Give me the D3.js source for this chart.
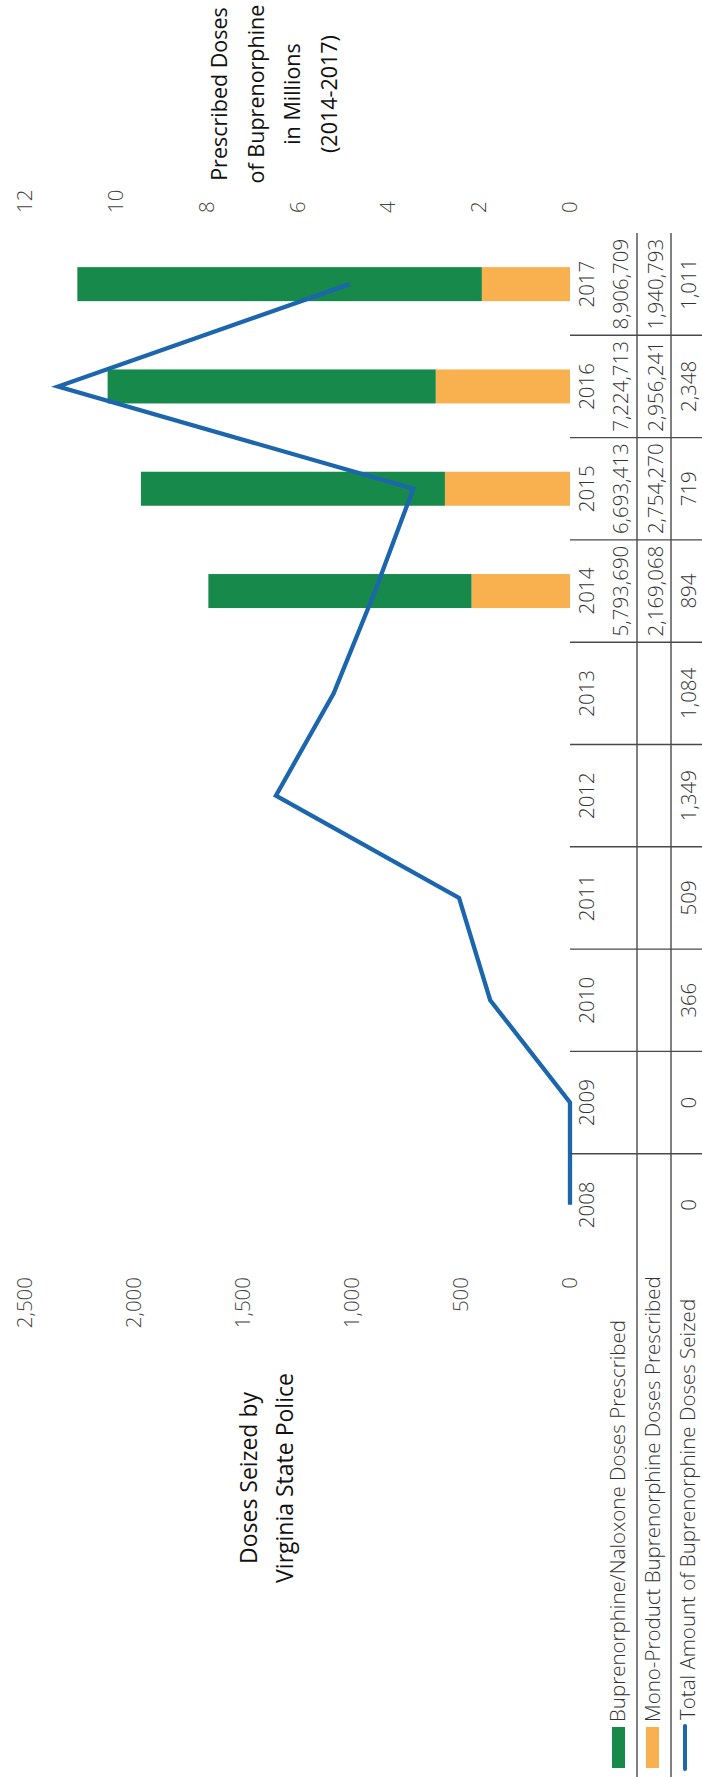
<!DOCTYPE html>
<html><head><meta charset="utf-8">
<script src="https://cdn.jsdelivr.net/npm/d3@7"></script>
<style>
html,body{margin:0;padding:0;background:#fff;}
text{font-family:"Open Sans","Noto Sans",sans-serif;}
</style></head>
<body>
<svg id="chart" width="702" height="1777"></svg>
<script>
const years = [2008,2009,2010,2011,2012,2013,2014,2015,2016,2017];
const comboDoses = [null,null,null,null,null,null,5793690,6693413,7224713,8906709];
const monoDoses  = [null,null,null,null,null,null,2169068,2754270,2956241,1940793];
const seized = [0,0,366,509,1349,1084,894,719,2348,1011];
const leftTicks = [0,500,1000,1500,2000,2500];
const rightTicks = [0,2,4,6,8,10,12];
const seriesNames = ["Buprenorphine/Naloxone Doses Prescribed","Mono-Product Buprenorphine Doses Prescribed","Total Amount of Buprenorphine Doses Seized"];
const colors = {combo:"#17894a", mono:"#f9b04e", line:"#1c66ad"};

const FS = 20.5;
const svg = d3.select("#chart");
// chart drawn in landscape and rotated (as in the reference scan)
const g = svg.append("g").attr("transform","translate(0,1777) rotate(-90)");

const x = d3.scaleBand().domain(years).range([521,1544]);
const bw = x.bandwidth();
const yL = d3.scaleLinear().domain([0,2500]).range([570,25]);
const yR = d3.scaleLinear().domain([0,12]).range([570,25]);

// stacked bars (mono at bottom, combo on top) in millions
const barData = years.map((y,i)=>({year:y, mono:monoDoses[i]==null?0:monoDoses[i]/1e6, combo:comboDoses[i]==null?0:comboDoses[i]/1e6}))
  .filter((d,i)=>comboDoses[i]!=null);
const stack = d3.stack().keys(["mono","combo"])(barData);
const barW = 34;
g.append("g").selectAll("g").data(stack).join("g")
  .attr("fill",d=>colors[d.key])
  .selectAll("rect").data(d=>d).join("rect")
  .attr("x",d=>x(d.data.year)+bw/2-barW/2)
  .attr("width",barW)
  .attr("y",d=>yR(d[1]))
  .attr("height",d=>yR(d[0])-yR(d[1]));

// seized line
const line = d3.line().x((d,i)=>x(years[i])+bw/2).y(d=>yL(d));
g.append("path").datum(seized)
  .attr("fill","none").attr("stroke",colors.line).attr("stroke-width",4.3)
  .attr("stroke-linejoin","miter").attr("d",line);

// left axis
const axL = g.append("g").attr("transform","translate(500,0)")
  .call(d3.axisLeft(yL).tickValues(leftTicks).tickSize(0).tickPadding(0).tickFormat(d3.format(",")));
axL.select(".domain").remove();
axL.selectAll("text").attr("font-size",FS).attr("font-weight",300).attr("fill","#444").attr("font-family","Open Sans, sans-serif");

// right axis
const axR = g.append("g").attr("transform","translate(1564,0)")
  .call(d3.axisRight(yR).tickValues(rightTicks).tickSize(0).tickPadding(0).tickFormat(d3.format("d")));
axR.select(".domain").remove();
axR.selectAll("text").attr("font-size",FS).attr("font-weight",300).attr("fill","#444").attr("font-family","Open Sans, sans-serif");

// year axis
const axX = g.append("g").attr("transform","translate(0,587)")
  .call(d3.axisBottom(x).tickSize(0).tickPadding(0));
axX.select(".domain").remove();
axX.selectAll("text").attr("dy","0.35em").attr("font-size",FS).attr("font-weight",300).attr("fill","#333").attr("font-family","Open Sans, sans-serif");

// table grid
const tbl = g.append("g").attr("stroke","#4a4a4a").attr("stroke-width",1.4);
[637,671].forEach(v=>tbl.append("line").attr("x1",0).attr("x2",x(2017)+bw).attr("y1",v).attr("y2",v));
years.slice(1).forEach(y=>tbl.append("line").attr("x1",x(y)).attr("x2",x(y)).attr("y1",570).attr("y2",702));

// table values
const fmt = d3.format(",");
const rows = [{vals:comboDoses,v:621},{vals:monoDoses,v:656},{vals:seized,v:689}];
rows.forEach(r=>{
  g.append("g").selectAll("text").data(years.map((y,i)=>({year:y,val:r.vals[i]})).filter(d=>d.val!=null)).join("text")
   .attr("x",d=>x(d.year)+bw/2).attr("y",r.v).attr("dy","0.35em")
   .attr("text-anchor","middle").attr("font-size",FS).attr("font-weight",300).attr("fill","#333")
   .text(d=>fmt(d.val));
});

// legend / row labels
const leg = g.append("g");
leg.append("rect").attr("x",9).attr("y",612).attr("width",41).attr("height",13).attr("fill",colors.combo);
leg.append("rect").attr("x",9).attr("y",646).attr("width",41).attr("height",13).attr("fill",colors.mono);
leg.append("line").attr("x1",8).attr("x2",51).attr("y1",685).attr("y2",685).attr("stroke",colors.line).attr("stroke-width",4).attr("stroke-linecap","round");
[618,653,688].forEach((v,i)=>{
  leg.append("text").attr("x",i==2?57:55).attr("y",v).attr("dy","0.35em")
    .attr("font-size",FS).attr("font-weight",300).attr("fill","#333").text(seriesNames[i]);
});

// titles
const tR = g.append("text").attr("text-anchor","middle").attr("font-size",21.5).attr("fill","#111");
["Prescribed Doses","of Buprenorphine","in Millions","(2014-2017)"].forEach((s,i)=>
  tR.append("tspan").attr("x",1683).attr("y",227+i*36.5).text(s));
const tL = g.append("text").attr("text-anchor","middle").attr("font-size",23).attr("fill","#111");
["Doses Seized by","Virginia State Police"].forEach((s,i)=>
  tL.append("tspan").attr("x",299).attr("y",257+i*36).text(s));
</script>
</body></html>
